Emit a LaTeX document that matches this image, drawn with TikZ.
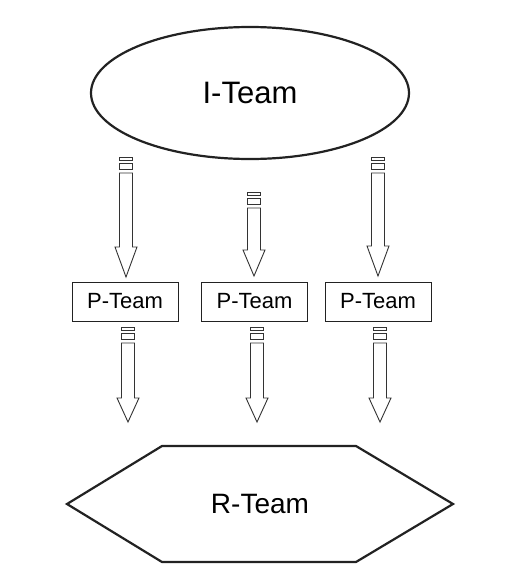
\documentclass[tikz,border=0pt]{standalone}
\usepackage{fontspec}
\setmainfont{Liberation Sans}
\usetikzlibrary{shapes.geometric}
\definecolor{ink}{HTML}{222222}
\definecolor{arrink}{HTML}{333333}
\tikzset{
  shapeline/.style={draw=ink, line width=2.2pt, fill=white},
  boxline/.style={draw=ink, line width=0.9pt, fill=white},
  arr/.style={draw=arrink, line width=0.9pt, fill=white, line join=miter},
}
% striped block arrow: centre x, top y, tip y, head length
\newcommand\stripedarrow[4]{%
  \draw[arr] (#1-6.5,#2) rectangle (#1+6.5,#2+3);
  \draw[arr] (#1-6.5,#2+6) rectangle (#1+6.5,#2+12);
  \draw[arr] (#1-6.5,#2+16) -- (#1-6.5,#3-#4) -- (#1-11,#3-#4) -- (#1,#3)
    -- (#1+11,#3-#4) -- (#1+6.5,#3-#4) -- (#1+6.5,#2+16) -- cycle;
}
\begin{document}
\begin{tikzpicture}[x=1pt,y=-1pt]
\useasboundingbox[fill=white] (0,0) rectangle (528,584);
% I-Team ellipse
\node[ellipse, shapeline, minimum width=318pt, minimum height=132pt,
      font=\fontsize{31}{36}\selectfont] (iteam) at (250,93) {I-Team};
% P-Team boxes
\node[boxline, minimum width=106pt, minimum height=39pt, inner sep=0pt,
      font=\fontsize{22}{26}\selectfont] (p1) at (125,301.5) {P-Team};
\node[boxline, minimum width=106pt, minimum height=39pt, inner sep=0pt,
      font=\fontsize{22}{26}\selectfont] (p2) at (254.5,301.5) {P-Team};
\node[boxline, minimum width=106pt, minimum height=39pt, inner sep=0pt,
      font=\fontsize{22}{26}\selectfont] (p3) at (378,301.5) {P-Team};
% R-Team hexagon
\coordinate (h1) at (67,504);
\coordinate (h2) at (162,446);
\coordinate (h3) at (356,446);
\coordinate (h4) at (453,504);
\coordinate (h5) at (356,562);
\coordinate (h6) at (162,562);
\draw[shapeline, line join=miter] (h1) -- (h2) -- (h3) -- (h4) -- (h5) -- (h6) -- cycle;
\node[font=\fontsize{28}{33}\selectfont] (rteam) at (260,504) {R-Team};
% arrows I-Team -> P-Teams
\stripedarrow{126}{157}{277}{30}
\stripedarrow{254}{192}{276}{26}
\stripedarrow{378}{157}{276}{30}
% arrows P-Teams -> R-Team
\stripedarrow{128}{327}{422}{24}
\stripedarrow{257}{327}{422}{24}
\stripedarrow{380}{327}{422}{24}
\end{tikzpicture}
\end{document}
